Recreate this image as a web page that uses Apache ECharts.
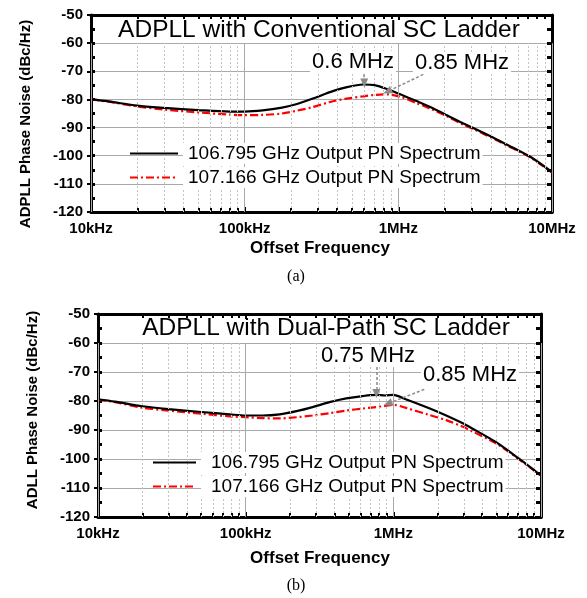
<!DOCTYPE html>
<html>
<head>
<meta charset="utf-8">
<script src="https://cdn.jsdelivr.net/npm/echarts@6/dist/echarts.min.js"></script>
<style>
  html, body { margin: 0; padding: 0; background: #fff; }
  #chart { width: 587px; height: 598px; }
</style>
</head>
<body>
<div id="chart"></div>
<script>
// ---- data: phase-noise spectra (offset frequency in Hz, PN in dBc/Hz) ----
const seriesNames = ['106.795 GHz Output PN Spectrum', '107.166 GHz Output PN Spectrum'];

// (a) conventional SC ladder
const freqA = [1e4, 1.3e4, 2e4, 3e4, 5e4, 8e4, 1e5, 1.31e5, 1.75e5, 2.19e5, 2.78e5, 3.59e5, 4.5e5, 5.89e5, 7e5, 8.43e5, 1.02e6, 1.3e6, 1.6e6, 2.07e6, 2.63e6, 3.05e6, 4.37e6, 5.5e6, 7.18e6, 1e7];
const pnA_106795 = [-80, -80.7, -82.2, -83.0, -83.8, -84.3, -84.3, -83.9, -82.9, -81.6, -79.7, -77.4, -75.8, -74.7, -74.9, -76.3, -78.1, -80.5, -82.6, -85.6, -88.5, -90.1, -94.2, -97.0, -100.3, -105.8];
const pnA_107166 = [-80, -80.8, -82.5, -83.6, -84.6, -85.4, -85.6, -85.5, -85.0, -84.0, -82.7, -80.9, -79.8, -78.9, -78.4, -78.2, -79.0, -81.2, -83.2, -86.0, -88.9, -90.4, -94.5, -97.3, -100.5, -106.0];

// (b) dual-path SC ladder
const freqB = [1e4, 1.3e4, 2e4, 3e4, 5e4, 7.8e4, 1e5, 1.3e5, 1.7e5, 2.21e5, 2.84e5, 3.7e5, 4.8e5, 6.18e5, 7.67e5, 8.8e5, 1e6, 1.2e6, 1.75e6, 2.28e6, 2.93e6, 3.4e6, 4.96e6, 7.1e6, 1e7];
const pnB_106795 = [-79.4, -80.2, -81.8, -82.8, -83.8, -84.6, -85.0, -85.0, -84.6, -83.5, -82.1, -80.4, -79.1, -78.3, -77.9, -78.1, -77.9, -79.3, -82.5, -85.0, -87.6, -89.4, -94.2, -99.9, -105.7];
const pnB_107166 = [-79.5, -80.4, -82.3, -83.3, -84.4, -85.3, -85.6, -85.9, -86.0, -85.6, -85.0, -84.2, -83.3, -82.6, -82.1, -81.7, -81.3, -82.3, -84.8, -86.6, -88.8, -90.4, -94.6, -100.1, -105.8];

// annotated frequencies: [text, x of arrow start, y start, x tip, y tip]
const arrowsA = [
  ['0.6 MHz', 6.0e5, -69.3, 6.0e5, -74.2],
  ['0.85 MHz', 1.78e6, -68.8, 8.5e5, -77.2]
];
const arrowsB = [
  ['0.75 MHz', 7.67e5, -68.3, 7.67e5, -77.4],
  ['0.85 MHz', 1.62e6, -76.0, 9.2e5, -80.9]
];

// axis ticks
const xDecades = [1e4, 1e5, 1e6, 1e7];
const xTickLabels = ['10kHz', '100kHz', '1MHz', '10MHz'];
const yMin = -120, yMax = -50, yStep = 10;
const gridTopValue = -60;   // vertical grid stops under the title band

const FONT = '"Liberation Sans", Arial, sans-serif';
const SERIF = '"Liberation Serif", "Times New Roman", serif';

function zip(xs, ys) { return xs.map((x, i) => [x, ys[i]]); }

// vertical grid lines at 1..9 x each decade
function verticalGrid() {
  const out = [];
  for (let d = 0; d < xDecades.length; d++) {
    const base = xDecades[d];
    const mults = d === xDecades.length - 1 ? [1] : [1, 2, 3, 4, 5, 6, 7, 8, 9];
    mults.forEach(m => {
      const f = base * m;
      const major = m === 1;
      out.push([
        { coord: [f, yMin], lineStyle: major ? { color: '#a9a9a9', width: 1, type: 'solid' } : { color: '#c4c4c4', width: 1, type: [2, 2] } },
        { coord: [f, gridTopValue] }
      ]);
    });
  }
  return out;
}

function xLabel(v) {
  for (let i = 0; i < xDecades.length; i++) {
    if (Math.abs(Math.log10(v) - Math.log10(xDecades[i])) < 1e-6) return xTickLabels[i];
  }
  return '';
}

function xAxes(gridIndex) {
  const common = {
    type: 'log', logBase: 10, min: xDecades[0], max: xDecades[xDecades.length - 1],
    gridIndex: gridIndex,
    axisLine: { show: true, lineStyle: { color: '#000', width: 3 } },
    axisTick: { show: true, inside: true, length: 5, lineStyle: { color: '#000', width: 2 } },
    minorTick: { show: true, splitNumber: 9, length: 4, lineStyle: { color: '#000', width: 2 } },
    splitLine: { show: false }
  };
  return [
    Object.assign({}, common, {
      position: 'bottom',
      axisLabel: { show: true, formatter: xLabel, fontFamily: FONT, fontWeight: 'bold', fontSize: 15, color: '#000', margin: 9 }
    }),
    Object.assign({}, common, { position: 'top', axisLabel: { show: false } })
  ];
}

function yAxes(gridIndex) {
  return [
    {
      type: 'value', gridIndex: gridIndex, position: 'left', min: yMin, max: yMax, interval: yStep,
      axisLine: { show: true, lineStyle: { color: '#000', width: 3 } },
      axisTick: { show: true, inside: false, length: 4, lineStyle: { color: '#000', width: 2 } },
      axisLabel: { fontFamily: FONT, fontWeight: 'bold', fontSize: 15, color: '#000', margin: 8 },
      splitLine: { show: true, lineStyle: { color: '#a9a9a9', width: 1 } }
    },
    {
      type: 'value', gridIndex: gridIndex, position: 'left', min: yMin, max: yMax, interval: yStep / 2,
      axisLine: { show: false },
      axisTick: { show: true, inside: true, length: 4, lineStyle: { color: '#000', width: 3 } },
      axisLabel: { show: false }, splitLine: { show: false }
    },
    {
      type: 'value', gridIndex: gridIndex, position: 'right', min: yMin, max: yMax, interval: yStep / 2,
      axisLine: { show: true, lineStyle: { color: '#000', width: 3 } },
      axisTick: { show: true, inside: true, length: 5, lineStyle: { color: '#000', width: 3 } },
      axisLabel: { show: false }, splitLine: { show: false }
    }
  ];
}

function seriesFor(k, freq, pnBlack, pnRed, arrows) {
  const xi = k * 2, yi = k * 3;
  return [
    {
      type: 'line', xAxisIndex: xi, yAxisIndex: yi, data: [], z: 1, silent: true,
      markLine: { silent: true, symbol: ['none', 'none'], label: { show: false }, animation: false, data: verticalGrid() }
    },
    {
      name: seriesNames[0], type: 'line', xAxisIndex: xi, yAxisIndex: yi, z: 3,
      data: zip(freq, pnBlack), showSymbol: false, symbol: 'none', smooth: 0.3,
      lineStyle: { color: '#000', width: 2.2 }, itemStyle: { color: '#000' }
    },
    {
      name: seriesNames[1], type: 'line', xAxisIndex: xi, yAxisIndex: yi, z: 2,
      data: zip(freq, pnRed), showSymbol: false, symbol: 'none', smooth: 0.3,
      lineStyle: { color: '#ff0000', width: 2.2, type: [8, 3, 2, 3] }, itemStyle: { color: '#ff0000' }
    },
    {
      type: 'line', xAxisIndex: xi, yAxisIndex: yi, data: [], z: 4, silent: true,
      markLine: {
        silent: true, animation: false, symbol: ['none', 'triangle'], symbolSize: [8, 9],
        label: { show: false },
        lineStyle: { color: '#8a8a8a', width: 1.5, type: [3, 2] },
        data: arrows.map(a => [{ coord: [a[1], a[2]] }, { coord: [a[3], a[4]] }])
      }
    }
  ];
}

function text(str, x, y, font, extra, rotation) {
  const el = {
    type: 'text', x: x, y: y, z: 100,
    style: Object.assign({ text: str, font: font, fill: '#000', align: 'center', verticalAlign: 'middle', textAlign: 'center', textVerticalAlign: 'middle' }, extra || {})
  };
  if (rotation) el.rotation = rotation;
  return el;
}

function legendFor(left, top, itemWidth, textPad) {
  return {
    data: seriesNames, orient: 'vertical', left: left, top: top, itemGap: 3, z: 10,
    itemWidth: itemWidth, itemHeight: 14, selectedMode: false,
    itemStyle: { opacity: 0, borderWidth: 0 },
    textStyle: { fontFamily: FONT, fontSize: 19, color: '#000', lineHeight: 21, backgroundColor: '#fff', padding: [0, 2, 0, textPad] }
  };
}

const chart = echarts.init(document.getElementById('chart'), null, { renderer: 'canvas' });

const option = {
  backgroundColor: '#fff',
  animation: false,
  grid: [
    { left: 91, top: 15, width: 461, height: 197 },
    { left: 98, top: 314, width: 443, height: 203 }
  ],
  xAxis: xAxes(0).concat(xAxes(1)),
  yAxis: yAxes(0).concat(yAxes(1)),
  legend: [
    legendFor(124, 138, 48, 5),
    legendFor(147, 447, 43, 10)
  ],
  series: seriesFor(0, freqA, pnA_106795, pnA_107166, arrowsA)
    .concat(seriesFor(1, freqB, pnB_106795, pnB_107166, arrowsB)),
  graphic: [
    text('ADPLL with Conventional SC Ladder', 319, 30, '24.5px ' + FONT),
    text(arrowsA[0][0], 353, 62, '22px ' + FONT, { backgroundColor: '#fff', padding: [0, 2] }),
    text(arrowsA[1][0], 462, 63, '22px ' + FONT, { backgroundColor: '#fff', padding: [0, 2] }),
    text('ADPLL Phase Noise (dBc/Hz)', 26, 124, 'bold 15px ' + FONT, null, Math.PI / 2),
    text('Offset Frequency', 320, 248, 'bold 17px ' + FONT),
    text('(a)', 296, 277, '16px ' + SERIF),

    text('ADPLL with Dual-Path SC Ladder', 326, 328, '24.5px ' + FONT),
    text(arrowsB[0][0], 368, 356, '22px ' + FONT, { backgroundColor: '#fff', padding: [0, 2] }),
    text(arrowsB[1][0], 470, 375, '22px ' + FONT, { backgroundColor: '#fff', padding: [0, 2] }),
    text('ADLL Phase Noise (dBc/Hz)', 33, 410, 'bold 15px ' + FONT, null, Math.PI / 2),
    text('Offset Frequency', 320, 558, 'bold 17px ' + FONT),
    text('(b)', 296, 586, '16px ' + SERIF)
  ]
};

chart.setOption(option);
</script>
</body>
</html>
